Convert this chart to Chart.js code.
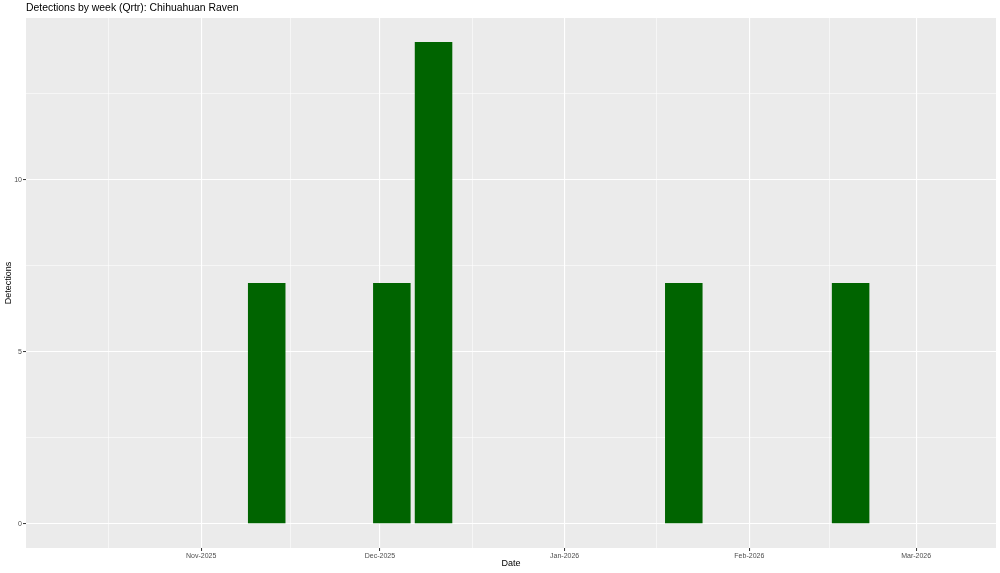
<!DOCTYPE html>
<html><head><meta charset="utf-8">
<script src="https://cdn.jsdelivr.net/npm/chart.js@4"></script>
<style>html,body{margin:0;padding:0;background:#fff}</style>
</head><body>
<canvas id="c" width="1000" height="573"></canvas>
<script>
const chartTitle = 'Detections by week (Qrtr): Chihuahuan Raven';
const xAxisTitle = 'Date';
const yAxisTitle = 'Detections';
const weekDates = ['2025-11-12','2025-12-03','2025-12-10','2026-01-21','2026-02-18'];
const detections = [7, 7, 14, 7, 7];
const monthTicks = ['2025-11-01','2025-12-01','2026-01-01','2026-02-01','2026-03-01'];
const monthLabels = ['Nov-2025','Dec-2025','Jan-2026','Feb-2026','Mar-2026'];
const minorXTicks = ['2025-10-16T12:00:00Z','2025-11-16T00:00:00Z','2025-12-16T12:00:00Z','2026-01-16T12:00:00Z','2026-02-14T12:00:00Z'];
const yMajorTicks = [0, 5, 10];
const yMinorTicks = [2.5, 7.5, 12.5];
const xLimits = ['2025-10-10','2026-03-07'];
const yLimits = [0, 14];

function day(s) { return Date.parse(s.includes('T') ? s : s + 'T00:00:00Z') / 864e5; }
const majorX = monthTicks.map(day);
const minorX = minorXTicks.map(day);
const isMajorX = v => majorX.some(m => Math.abs(m - v) < 1e-6);
const isMajorY = v => yMajorTicks.some(m => Math.abs(m - v) < 1e-6);

const xl = xLimits.map(day), xs = (xl[1] - xl[0]) * 0.05;
const ys = (yLimits[1] - yLimits[0]) * 0.05;

const bgPlugin = {
  id: 'bg',
  beforeDraw(chart) {
    const {ctx, chartArea: a} = chart;
    ctx.save();
    ctx.fillStyle = '#EBEBEB';
    ctx.fillRect(a.left, a.top, a.right - a.left, a.bottom - a.top);
    ctx.restore();
  },
  afterDraw(chart) {
    const ctx = chart.ctx;
    ctx.save();
    ctx.fillStyle = '#000000';
    ctx.font = '10.4px "Liberation Sans", Arial, sans-serif';
    ctx.textBaseline = 'middle';
    ctx.textAlign = 'left';
    ctx.fillText(chartTitle, chart.chartArea.left, 8.5);
    ctx.restore();
  }
};

const tickFont = {family: '"Liberation Sans", Arial, sans-serif', size: 7};
const titleFont = {family: '"Liberation Sans", Arial, sans-serif', size: 9};

new Chart(document.getElementById('c'), {
  type: 'bar',
  data: {
    datasets: [{
      data: weekDates.map((d, i) => ({x: day(d), y: detections[i]})),
      backgroundColor: '#006400',
      borderWidth: 0,
      barPercentage: 0.9,
      categoryPercentage: 1
    }]
  },
  options: {
    responsive: false,
    animation: false,
    devicePixelRatio: 1,
    layout: {padding: {top: 18, right: 4, left: 0, bottom: 0}},
    plugins: {legend: {display: false}, tooltip: {enabled: false}, title: {display: false}},
    scales: {
      x: {
        type: 'linear',
        min: xl[0] - xs,
        max: xl[1] + xs,
        offset: false,
        afterBuildTicks: s => { s.ticks = [...minorX, ...majorX].sort((a, b) => a - b).map(v => ({value: v})); },
        afterFit: s => { s.height = 25; },
        ticks: {
          autoSkip: false, maxRotation: 0, minRotation: 0, padding: 1,
          color: '#4D4D4D', font: tickFont,
          callback: v => { const i = majorX.findIndex(m => Math.abs(m - v) < 1e-6); return i >= 0 ? monthLabels[i] : ''; }
        },
        grid: {
          offset: false,
          color: '#FFFFFF',
          lineWidth: c => isMajorX(c.tick.value) ? 1.1 : 0.55,
          tickLength: 3,
          tickColor: c => isMajorX(c.tick.value) ? '#333333' : 'rgba(0,0,0,0)',
          tickWidth: c => isMajorX(c.tick.value) ? 1 : 0,
          drawTicks: true
        },
        border: {display: false},
        title: {display: true, text: xAxisTitle, color: '#000000', font: titleFont, padding: {top: 0, bottom: 4}}
      },
      y: {
        type: 'linear',
        min: yLimits[0] - ys,
        max: yLimits[1] + ys,
        afterBuildTicks: s => { s.ticks = [...yMajorTicks, ...yMinorTicks].sort((a, b) => a - b).map(v => ({value: v})); },
        afterFit: s => { s.width = 26; },
        ticks: {
          autoSkip: false, padding: 1,
          color: '#4D4D4D', font: tickFont,
          callback: v => isMajorY(v) ? String(v) : ''
        },
        grid: {
          color: '#FFFFFF',
          lineWidth: c => isMajorY(c.tick.value) ? 1.1 : 0.55,
          tickLength: 3,
          tickColor: c => isMajorY(c.tick.value) ? '#333333' : 'rgba(0,0,0,0)',
          tickWidth: c => isMajorY(c.tick.value) ? 1 : 0,
          drawTicks: true
        },
        border: {display: false},
        title: {display: true, text: yAxisTitle, color: '#000000', font: titleFont, padding: {top: 3, bottom: 0}}
      }
    }
  },
  plugins: [bgPlugin]
});
</script>
</body></html>
